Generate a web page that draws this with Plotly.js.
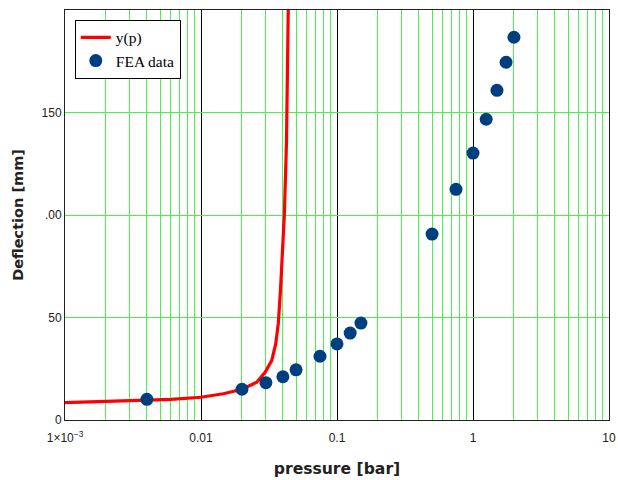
<!DOCTYPE html>
<html>
<head>
<meta charset="utf-8">
<script src="https://cdn.plot.ly/plotly-3.0.1.min.js"></script>
<style>
html,body{margin:0;padding:0;background:#fff;}
#chart{width:618px;height:480px;}
#chart .gridlayer path, #chart .xlines-above, #chart .ylines-above, #chart .xlines-below, #chart .ylines-below {shape-rendering: crispEdges !important;}
</style>
</head>
<body>
<div id="chart"></div>
<script>
// Model curve y(p)
const curveP = [0.001, 0.002, 0.003, 0.006, 0.01, 0.0146, 0.02, 0.0257, 0.0296, 0.0331, 0.0354, 0.037, 0.0383, 0.0396, 0.041, 0.0425, 0.0432, 0.0438];
const curveY = [8.5, 9.0, 9.5, 10.1, 11.1, 12.8, 15.0, 18.4, 23.3, 29.0, 37.0, 47.0, 62.0, 81.0, 100.0, 135.0, 165.0, 200.0];

// FEA data points
const feaP = [0.004, 0.02, 0.03, 0.04, 0.05, 0.075, 0.1, 0.125, 0.15, 0.5, 0.75, 1, 1.25, 1.5, 1.75, 2];
const feaY = [10.1, 15.0, 18.2, 21.1, 24.5, 31.1, 37.1, 42.4, 47.3, 90.7, 112.5, 130.2, 146.7, 160.8, 174.5, 186.7];

// Tick labels
const decades = [0.001, 0.01, 0.1, 1, 10];
const decadeLabels = ["1×10<sup>−3</sup>", "0.01", "0.1", "1", "10"];
const mantissas = [2, 3, 4, 5, 6, 7, 8, 9];
const yTickVals = [0, 50, 100, 150];
const yTickText = ["0", "50", ".00", "150"];

// minor (green) grid positions: 2..9 within each decade
const minorVals = [];
decades.slice(0, -1).forEach(d => mantissas.forEach(m => minorVals.push(d * m)));

const green = "#4cf24c";

const traces = [
  {x: curveP, y: curveY, type: "scatter", mode: "lines", name: "y(p)",
   line: {color: "#ff0000", width: 3.2, shape: "linear"}},
  {x: feaP, y: feaY, type: "scatter", mode: "markers", name: "FEA data",
   marker: {color: "#003f7f", size: 13}},
  // invisible carrier for the overlaid minor-grid axis
  {x: decades, y: [null, null, null, null, null], xaxis: "x2", type: "scatter", mode: "markers",
   showlegend: false, hoverinfo: "skip"}
];

const tickfont = {family: "Liberation Sans, Arial, sans-serif", size: 12, color: "#222"};

const layout = {
  width: 618, height: 480,
  margin: {l: 65, r: 9, t: 10, b: 60},
  paper_bgcolor: "#fff", plot_bgcolor: "#fff",
  showlegend: true,
  legend: {x: 0.018, y: 0.976, xanchor: "left", yanchor: "top",
           bgcolor: "#fff", bordercolor: "#000", borderwidth: 1,
           font: {family: "Liberation Serif, Times New Roman, serif", size: 15.5, color: "#000"},
           itemwidth: 30, tracegroupgap: 0},
  xaxis2: {type: "log", range: [-3, 1], overlaying: "x", side: "bottom",
           tickvals: minorVals, ticktext: minorVals.map(() => ""),
           showgrid: true, gridcolor: green, gridwidth: 1,
           showline: false, ticks: "", zeroline: false, showticklabels: false},
  xaxis: {type: "log", range: [-3, 1], tickvals: decades, ticktext: decadeLabels,
          showgrid: true, gridcolor: "#000", gridwidth: 1,
          showline: true, linecolor: "#222", linewidth: 1, mirror: true,
          ticks: "", zeroline: false, ticklabelstandoff: 7,
          tickfont: tickfont,
          title: {text: "pressure [bar]", standoff: 18,
                  font: {family: "DejaVu Sans, Verdana, sans-serif", size: 15.6, color: "#222", weight: "bold"}}},
  yaxis: {range: [0, 200], tickvals: yTickVals, ticktext: yTickText,
          showgrid: true, gridcolor: green, gridwidth: 1,
          showline: true, linecolor: "#222", linewidth: 1, mirror: true,
          ticks: "", zeroline: false,
          tickfont: tickfont,
          title: {text: "Deflection [mm]", standoff: 14,
                  font: {family: "DejaVu Sans, Verdana, sans-serif", size: 14.5, color: "#222", weight: "bold"}}}
};

Plotly.newPlot("chart", traces, layout, {displayModeBar: false, staticPlot: true});
</script>
</body>
</html>
